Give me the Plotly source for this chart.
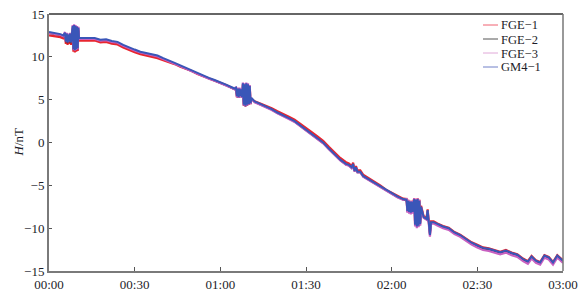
import plotly.graph_objects as go

# time in minutes after 00:00
minutes = [0, 1, 2, 3, 4, 5,
           5.6, 5.9, 6.2, 6.5, 6.8, 7.1, 7.4, 7.7, 8.0,
           8.3, 8.55, 8.8, 9.05, 9.3, 9.55, 9.8, 10.05, 10.3, 10.5,
           12, 14, 16, 18, 20, 22, 24, 26, 28, 30, 32, 34, 36, 38, 40, 42, 44, 46, 48, 50,
           52, 54, 56, 58, 60, 62, 64,
           65,
           65.5, 65.8, 66.1, 66.4, 66.7, 67.0, 67.3, 67.6,
           67.9, 68.2, 68.5, 68.8, 69.1, 69.4, 69.7, 70.0, 70.3, 70.6, 70.9,
           72, 74, 76, 78, 80, 82, 84, 86, 88, 90, 92, 94, 96, 98, 100, 102, 104,
           105, 106, 106.5, 107, 107.5, 108, 109,
           110, 112, 114, 116, 118, 120, 122, 124,
           125.2, 125.5, 125.8, 126.1, 126.4, 126.7, 127.0, 127.3, 127.6,
           127.9, 128.2, 128.5, 128.8, 129.1, 129.4, 129.7, 130.0, 130.3,
           131.2, 132.2, 132.6, 133.0, 133.4, 133.8, 134.7,
           136, 138, 140, 142, 144, 146, 148, 150, 152, 154, 156, 158, 160, 162, 164, 166,
           167.7, 169, 170.5, 172, 173.5, 175, 176.5, 178, 179, 180]

fge1 = [12.5, 12.45, 12.4, 12.35, 12.3, 12.15,
        12.5, 11.5, 12.4, 11.4, 12.3, 11.5, 12.4, 11.4, 12.1,
        13.3, 10.6, 13.4, 10.5, 13.3, 10.6, 13.2, 10.7, 13.1, 11.9,
        11.9, 11.85, 11.9, 11.7, 11.75, 11.55, 11.45, 11.1, 10.8, 10.55, 10.3, 10.15, 10.0, 9.85,
        9.6, 9.4, 9.15, 8.85, 8.6, 8.35, 8.0, 7.75, 7.5, 7.25, 7.0, 6.7, 6.4,
        6.25,
        6.3, 5.3, 6.2, 5.2, 6.2, 5.3, 6.1, 5.2,
        6.8, 4.3, 6.7, 4.2, 6.8, 4.3, 6.7, 4.4, 6.5, 4.5, 5.1,
        4.8, 4.55, 4.3, 4.0, 3.65, 3.35, 3.0, 2.65, 2.2, 1.7, 1.2, 0.7, 0.2, -0.5, -1.2, -1.8, -2.3,
        -2.45, -2.75, -2.35, -3.15, -2.75, -3.25, -3.25,
        -3.75, -4.15, -4.6, -5.0, -5.5, -5.85, -6.25, -6.55,
        -6.6, -7.9, -6.7, -8.0, -6.8, -8.1, -6.8, -8.0, -6.9,
        -6.5, -9.5, -6.6, -9.7, -6.5, -9.6, -6.7, -9.4, -7.4,
        -8.6, -8.8, -7.8, -9.1, -10.7, -9.2, -9.2,
        -9.45, -9.75, -9.95, -10.45, -10.75, -11.25, -11.65, -11.95, -12.25, -12.35, -12.55,
        -12.75, -12.55, -12.85, -13.05, -13.55,
        -13.85, -13.25, -13.75, -13.95, -13.15, -13.35, -13.95, -13.15, -13.45, -13.75]

fge2 = [12.75, 12.7, 12.65, 12.55, 12.5, 12.35,
        12.7, 11.7, 12.6, 11.6, 12.5, 11.7, 12.6, 11.6, 12.3,
        13.5, 10.8, 13.6, 10.7, 13.5, 10.8, 13.4, 10.9, 13.3, 12.1,
        12.1, 12.05, 12.1, 11.9, 11.95, 11.75, 11.65, 11.3, 11.0, 10.75, 10.5, 10.35, 10.2, 10.05,
        9.75, 9.5, 9.2, 8.9, 8.6, 8.35, 8.0, 7.7, 7.45, 7.2, 6.95, 6.65, 6.35,
        6.2,
        6.3, 5.3, 6.2, 5.2, 6.2, 5.3, 6.1, 5.2,
        6.8, 4.3, 6.7, 4.2, 6.8, 4.3, 6.7, 4.4, 6.5, 4.5, 5.1,
        4.7, 4.4, 4.1, 3.8, 3.4, 3.1, 2.75, 2.4, 1.9, 1.4, 0.9, 0.4, -0.1, -0.8, -1.5, -2.1, -2.6,
        -2.7, -3.0, -2.6, -3.4, -3.0, -3.5, -3.5,
        -4.0, -4.4, -4.8, -5.2, -5.7, -6.0, -6.4, -6.7,
        -6.8, -8.1, -6.9, -8.2, -7.0, -8.3, -7.0, -8.2, -7.1,
        -6.7, -9.7, -6.8, -9.9, -6.7, -9.8, -6.9, -9.6, -7.6,
        -8.8, -9.0, -8.0, -9.3, -10.9, -9.4, -9.4,
        -9.6, -9.9, -10.1, -10.6, -10.9, -11.4, -11.8, -12.1, -12.4, -12.5, -12.7,
        -12.9, -12.7, -13.0, -13.2, -13.7,
        -14.0, -13.4, -13.9, -14.1, -13.3, -13.5, -14.1, -13.3, -13.6, -13.9]

fge3 = [12.8, 12.75, 12.7, 12.6, 12.55, 12.4,
        12.9, 11.8, 12.8, 11.7, 12.7, 11.8, 12.8, 11.7, 12.5,
        13.7, 10.8, 13.8, 10.7, 13.7, 10.8, 13.6, 10.9, 13.5, 12.1,
        12.1, 12.05, 12.1, 11.9, 11.95, 11.75, 11.65, 11.3, 11.0, 10.75, 10.5, 10.35, 10.2, 10.05,
        9.75, 9.5, 9.2, 8.9, 8.6, 8.35, 8.0, 7.7, 7.45, 7.2, 6.95, 6.65, 6.35,
        6.2,
        6.5, 5.3, 6.4, 5.2, 6.4, 5.3, 6.3, 5.2,
        7.0, 4.3, 6.9, 4.2, 7.0, 4.3, 6.9, 4.4, 6.7, 4.5, 5.1,
        4.7, 4.4, 4.1, 3.8, 3.4, 3.1, 2.75, 2.4, 1.9, 1.4, 0.9, 0.4, -0.1, -0.8, -1.5, -2.1, -2.6,
        -2.7, -3.0, -2.6, -3.4, -3.0, -3.5, -3.5,
        -4.0, -4.4, -4.8, -5.2, -5.7, -6.0, -6.4, -6.7,
        -6.6, -8.2, -6.7, -8.3, -6.8, -8.4, -6.8, -8.3, -7.1,
        -6.5, -9.8, -6.6, -10.0, -6.5, -9.9, -6.7, -9.7, -7.6,
        -8.8, -9.0, -8.0, -9.4, -11.0, -9.5, -9.45,
        -9.7, -10.0, -10.2, -10.7, -11.0, -11.5, -11.9, -12.25, -12.55, -12.65, -12.85,
        -13.05, -12.85, -13.15, -13.35, -13.85,
        -14.15, -13.55, -14.05, -14.25, -13.45, -13.65, -14.25, -13.45, -13.75, -14.05]

gm4_1 = [12.9, 12.85, 12.8, 12.7, 12.65, 12.5,
         12.8, 11.8, 12.7, 11.7, 12.6, 11.8, 12.7, 11.7, 12.4,
         13.6, 10.9, 13.7, 10.8, 13.6, 10.9, 13.5, 11.0, 13.4, 12.2,
         12.2, 12.15, 12.2, 12.0, 12.05, 11.85, 11.75, 11.4, 11.1, 10.85, 10.6, 10.45, 10.3, 10.15,
         9.85, 9.6, 9.3, 9.0, 8.7, 8.45, 8.1, 7.8, 7.55, 7.3, 7.05, 6.75, 6.45,
         6.3,
         6.4, 5.4, 6.3, 5.3, 6.3, 5.4, 6.2, 5.3,
         6.9, 4.4, 6.8, 4.3, 6.9, 4.4, 6.8, 4.5, 6.6, 4.6, 5.2,
         4.8, 4.5, 4.2, 3.9, 3.5, 3.2, 2.85, 2.5, 2.0, 1.5, 1.0, 0.5, 0.0, -0.7, -1.4, -2.0, -2.5,
         -2.6, -2.9, -2.5, -3.3, -2.9, -3.4, -3.4,
         -3.9, -4.3, -4.7, -5.1, -5.6, -5.9, -6.3, -6.6,
         -6.7, -8.0, -6.8, -8.1, -6.9, -8.2, -6.9, -8.1, -7.0,
         -6.6, -9.6, -6.7, -9.8, -6.6, -9.7, -6.8, -9.5, -7.5,
         -8.7, -8.9, -7.9, -9.2, -10.8, -9.3, -9.3,
         -9.5, -9.8, -10.0, -10.5, -10.8, -11.3, -11.7, -12.0, -12.3, -12.4, -12.6,
         -12.8, -12.6, -12.9, -13.1, -13.6,
         -13.9, -13.3, -13.8, -14.0, -13.2, -13.4, -14.0, -13.2, -13.5, -13.8]

series_names = ["FGE\u22121", "FGE\u22122", "FGE\u22123", "GM4\u22121"]
series_values = [fge1, fge2, fge3, gm4_1]
series_colors = ["#e8262e", "#222222", "#c860c0", "#3a56b8"]
legend_colors = ["#f06070", "#555555", "#e0a8d8", "#7080c8"]
series_widths = [2.2, 1.4, 2.2, 2.0]

x_tick_vals = [0, 30, 60, 90, 120, 150, 180]
x_tick_text = ["00:00", "00:30", "01:00", "01:30", "02:00", "02:30", "03:00"]
y_tick_vals = [-15, -10, -5, 0, 5, 10, 15]

FONT = "Liberation Serif"
TXT = "#1c1c28"

W, H = 584, 301
ML, MR, MT, MB = 49, 21, 14, 30

fig = go.Figure()
for name, vals, col, w in zip(series_names, series_values, series_colors, series_widths):
    n = min(len(minutes), len(vals))
    fig.add_trace(go.Scatter(x=minutes[:n], y=vals[:n], mode="lines", name=name,
                             line=dict(color=col, width=w), showlegend=False))

fig.update_layout(
    width=W, height=H, autosize=False,
    margin=dict(l=ML, r=MR, t=MT, b=MB, pad=0),
    paper_bgcolor="white", plot_bgcolor="white",
    font=dict(family=FONT, size=13, color=TXT),
)
fig.update_xaxes(range=[0, 180], tickvals=x_tick_vals, ticktext=x_tick_text,
                 showgrid=False, zeroline=False, showline=True, linecolor="#7a7a7a",
                 linewidth=2, ticks="inside", ticklen=4, tickcolor="#555", tickwidth=1,
                 automargin=False,
                 tickfont=dict(family=FONT, size=13, color=TXT))
fig.update_yaxes(range=[-15, 15], tickvals=y_tick_vals,
                 showgrid=False, zeroline=False, showline=True, linecolor="#7a7a7a",
                 linewidth=2, ticks="inside", ticklen=3, tickcolor="#555", tickwidth=1,
                 automargin=False,
                 tickfont=dict(family=FONT, size=13, color=TXT))

plot_w = W - ML - MR
plot_h = H - MT - MB

# y-axis title
fig.add_annotation(xref="paper", yref="paper", x=(18 - ML) / plot_w, y=0.5,
                   text="<i>H</i>/nT", showarrow=False, textangle=-90,
                   xanchor="center", yanchor="middle",
                   font=dict(family=FONT, size=13, color=TXT))

# top and right frame lines
fig.add_shape(type="line", xref="paper", yref="paper", x0=0, x1=1, y0=1, y1=1,
              line=dict(color="#333333", width=1.3))
fig.add_shape(type="line", xref="paper", yref="paper", x0=1, x1=1, y0=0, y1=1,
              line=dict(color="#777777", width=1.5))

# compact legend
leg_y_px = [25, 39, 53, 67]
for name, col, ypx in zip(series_names, legend_colors, leg_y_px):
    yp = 1 - (ypx - MT) / plot_h
    x0 = (483 - ML) / plot_w
    x1 = (498 - ML) / plot_w
    fig.add_shape(type="line", xref="paper", yref="paper", x0=x0, x1=x1, y0=yp, y1=yp,
                  line=dict(color=col, width=1))
    fig.add_annotation(xref="paper", yref="paper", x=(500 - ML) / plot_w, y=yp,
                       text=name, showarrow=False, xanchor="left", yanchor="middle",
                       height=13, borderpad=0,
                       font=dict(family=FONT, size=12.5, color=TXT))

fig.write_html("out.html", config={"displayModeBar": False},
               post_script="document.body.style.margin='0px';")
